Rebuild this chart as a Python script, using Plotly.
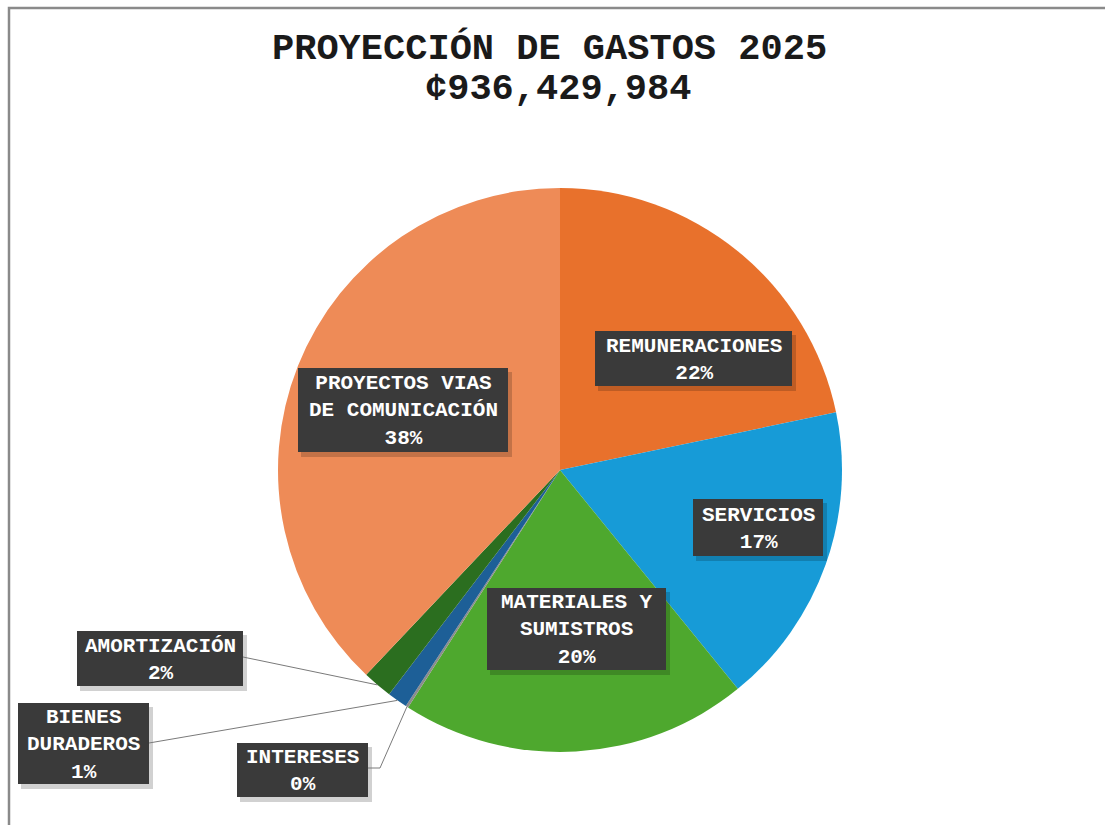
import math
import plotly.graph_objects as go

# Expense categories (clockwise from 12 o'clock) and their share of the budget (%)
categories = [
    "REMUNERACIONES",
    "SERVICIOS",
    "MATERIALES Y<br>SUMISTROS",
    "INTERESES",
    "BIENES<br>DURADEROS",
    "AMORTIZACIÓN",
    "PROYECTOS VIAS<br>DE COMUNICACIÓN",
]
shares = [21.7, 17.4, 19.9, 0.15, 1.15, 1.7, 37.9]
colors = ["#E8712C", "#179BD7", "#4EA82E", "#8C8C8C", "#1D5F97", "#2B6E1F", "#EE8B57"]

title_line1 = "PROYECCIÓN DE GASTOS 2025"
title_line2 = "¢936,429,984"

W, H = 1105, 825
CX, CY, R = 560, 470, 282          # pie centre and radius in pixels

# label boxes: left, top, right, bottom (pixels)
boxes = {
    "REMUNERACIONES": (595, 331, 792, 386),
    "SERVICIOS": (693, 499, 823, 556),
    "MATERIALES Y<br>SUMISTROS": (487, 588, 666, 670),
    "INTERESES": (237, 743, 368, 797),
    "BIENES<br>DURADEROS": (18, 703, 149, 784),
    "AMORTIZACIÓN": (77, 631, 243, 686),
    "PROYECTOS VIAS<br>DE COMUNICACIÓN": (298, 368, 508, 452),
}
# leader lines for the thin slices start at the box edge (and an elbow)
leader_from = {
    "INTERESES": [(368, 768), (380, 768)],
    "BIENES<br>DURADEROS": [(149, 743)],
    "AMORTIZACIÓN": [(243, 657)],
}

FONT = "Liberation Mono, Courier New, monospace"

fig = go.Figure()
fig.add_trace(go.Pie(
    labels=categories,
    values=shares,
    sort=False,
    direction="clockwise",
    rotation=0,
    marker=dict(colors=colors, line=dict(width=0)),
    textinfo="none",
    hoverinfo="label+percent",
    domain=dict(x=[(CX - R) / W, (CX + R) / W], y=[(H - CY - R) / H, (H - CY + R) / H]),
    showlegend=False,
))

# invisible pixel-space axes covering the whole figure, for labels and leader lines
fig.update_layout(
    xaxis=dict(range=[0, W], visible=False, domain=[0, 1], fixedrange=True),
    yaxis=dict(range=[H, 0], visible=False, domain=[0, 1], fixedrange=True),
)

total = sum(shares)
cum = 0.0
annotations = []
shapes = []
for name, val in zip(categories, shares):
    mid = (cum + val / 2) / total
    cum += val
    theta = 2 * math.pi * mid
    tip = (CX + R * math.sin(theta), CY - R * math.cos(theta))
    x0, y0, x1, y1 = boxes[name]
    # soft drop shadow, then the dark label box
    shapes.append(dict(type="rect", xref="x", yref="y", x0=x0 + 3, y0=y0 + 4, x1=x1 + 4, y1=y1 + 5,
                       fillcolor="rgba(0,0,0,0.18)", line=dict(width=0), layer="above"))
    shapes.append(dict(type="rect", xref="x", yref="y", x0=x0, y0=y0, x1=x1, y1=y1,
                       fillcolor="#3A3A3A", line=dict(width=0), layer="above"))
    annotations.append(dict(
        x=(x0 + x1) / 2, y=(y0 + y1) / 2 + 1, xref="x", yref="y",
        text=f"<b>{name}<br>{round(val / total * 100)}%</b>", showarrow=False,
        font=dict(family=FONT, size=21, color="white"),
    ))
    if name in leader_from:
        pts = leader_from[name] + [tip]
        path = "M " + " L ".join(f"{px:.1f},{py:.1f}" for px, py in pts)
        shapes.append(dict(type="path", path=path, xref="x", yref="y",
                           line=dict(color="#7A7A7A", width=1)))

# chart title
annotations.append(dict(x=0.5, y=48, xref="paper", yref="y", showarrow=False,
                        text=f"<b>{title_line1}</b>", xshift=-3,
                        font=dict(family=FONT, size=37, color="#1A1A1A")))
annotations.append(dict(x=0.5, y=89, xref="paper", yref="y", showarrow=False,
                        text=f"<b>{title_line2}</b>", xshift=5,
                        font=dict(family=FONT, size=37, color="#1A1A1A")))

# frame along the left and top edges
shapes.append(dict(type="path", path=f"M 9,{H} L 9,8 L {W},8", xref="x", yref="y",
                   line=dict(color="#8A8A8A", width=2.5)))

fig.update_layout(
    width=W, height=H,
    margin=dict(l=0, r=0, t=0, b=0),
    paper_bgcolor="white",
    plot_bgcolor="white",
    annotations=annotations,
    shapes=shapes,
    showlegend=False,
)

fig.write_html("out.html")
